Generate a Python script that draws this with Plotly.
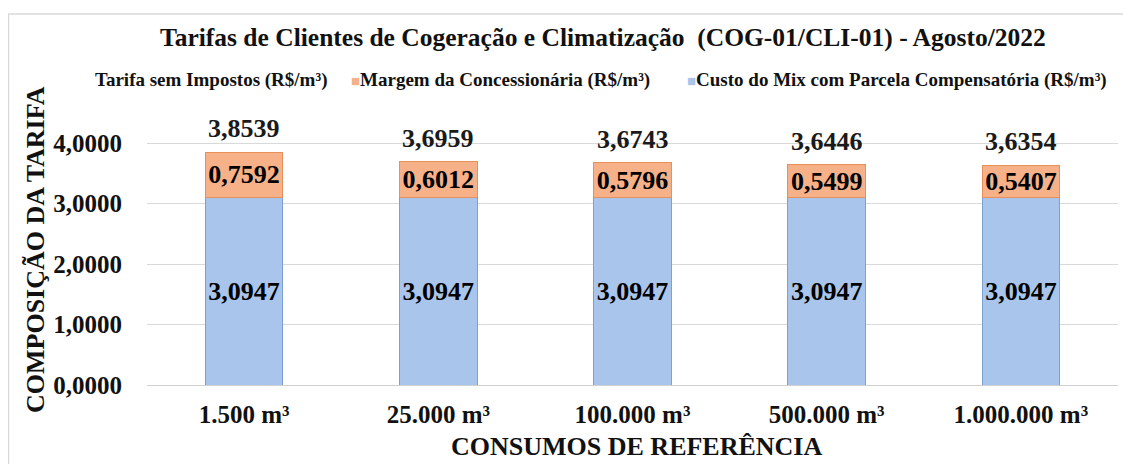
import plotly.graph_objects as go

# ---- data ----
categories = ["1.500 m³", "25.000 m³", "100.000 m³", "500.000 m³", "1.000.000 m³"]
custo_mix = [3.0947, 3.0947, 3.0947, 3.0947, 3.0947]
margem = [0.7592, 0.6012, 0.5796, 0.5499, 0.5407]
tarifa_sem_impostos = [3.8539, 3.6959, 3.6743, 3.6446, 3.6354]

legend_labels = [
    "Tarifa sem Impostos (R$/m³)",
    "Margem da Concessionária (R$/m³)",
    "Custo do Mix com Parcela Compensatória (R$/m³)",
]
chart_title = "Tarifas de Clientes de Cogeração e Climatização  (COG-01/CLI-01) - Agosto/2022"
y_title = "COMPOSIÇÃO DA TARIFA"
x_title = "CONSUMOS DE REFERÊNCIA"

# ---- styling ----
OFF = 8  # default page body margin of the written HTML
PAGE_W, PAGE_H = 1131, 464
W, H = PAGE_W - OFF, PAGE_H - OFF
# plot area in page pixels: x 147..1118, y 113..385
ML, MR, MT, MB = 147 - OFF, PAGE_W - 1118, 113 - OFF, PAGE_H - 385
FONT = "Liberation Serif"
BLUE = "#a9c5eb"
BLUE_LINE = "#7aa0d6"
ORANGE = "#f6b189"
ORANGE_LINE = "#e8905a"


def px_x(p):
    return (p - OFF - ML) / (W - ML - MR)


def px_y(p):
    return 1 - (p - OFF - MT) / (H - MT - MB)


fig = go.Figure()
fig.add_trace(go.Bar(
    x=categories, y=custo_mix, name=legend_labels[2],
    marker=dict(color=BLUE, line=dict(color=BLUE_LINE, width=1)),
    texttemplate="%{y:.4f}", textposition="inside", insidetextanchor="middle",
    textfont=dict(family=FONT, size=26, color="black", weight="bold"),
    constraintext="none", showlegend=False,
))
fig.add_trace(go.Bar(
    x=categories, y=margem, name=legend_labels[1],
    marker=dict(color=ORANGE, line=dict(color=ORANGE_LINE, width=1)),
    texttemplate="%{y:.4f}", textposition="inside", insidetextanchor="middle",
    textfont=dict(family=FONT, size=26, color="black", weight="bold"),
    constraintext="none", showlegend=False,
))

annotations = []
for c, t in zip(categories, tarifa_sem_impostos):
    annotations.append(dict(
        x=c, y=t, xref="x", yref="y", text=f"{t:.4f}".replace(".", ","),
        showarrow=False, yanchor="bottom", yshift=7,
        font=dict(family=FONT, size=26, color="#1a1a1a", weight="bold"),
    ))

# manual legend (first entry has no symbol, as in the reference)
leg_y = px_y(80)
annotations.append(dict(
    x=px_x(93), y=leg_y, xref="paper", yref="paper", xanchor="left", yanchor="middle",
    text=legend_labels[0], showarrow=False,
    font=dict(family=FONT, size=19, color="#111111", weight="bold"),
))
annotations.append(dict(
    x=px_x(349), y=leg_y, xref="paper", yref="paper", xanchor="left", yanchor="middle",
    text=f"<span style='color:{ORANGE};font-size:15px'>■</span>" + legend_labels[1],
    showarrow=False,
    font=dict(family=FONT, size=19, color="#111111", weight="bold"),
))
annotations.append(dict(
    x=px_x(685), y=leg_y, xref="paper", yref="paper", xanchor="left", yanchor="middle",
    text=f"<span style='color:{BLUE};font-size:15px'>■</span>" + legend_labels[2],
    showarrow=False,
    font=dict(family=FONT, size=19, color="#111111", weight="bold"),
))

# chart title
annotations.append(dict(
    x=px_x(603), y=px_y(37), xref="paper", yref="paper", xanchor="center", yanchor="middle",
    text=chart_title, showarrow=False,
    font=dict(family=FONT, size=25.5, color="#111111", weight="bold"),
))
# y-axis title
annotations.append(dict(
    x=px_x(35), y=px_y(250), xref="paper", yref="paper", xanchor="center", yanchor="middle",
    text=y_title, textangle=-90, showarrow=False,
    font=dict(family=FONT, size=26, color="#111111", weight="bold"),
))
# x-axis title
annotations.append(dict(
    x=px_x(636), y=px_y(446), xref="paper", yref="paper", xanchor="center", yanchor="middle",
    text=x_title, showarrow=False,
    font=dict(family=FONT, size=26, color="#111111", weight="bold"),
))

fig.update_layout(
    width=W, height=H,
    margin=dict(l=ML, r=MR, t=MT, b=MB, pad=0),
    barmode="stack", bargap=0.6,
    separators=",.",
    paper_bgcolor="white", plot_bgcolor="white",
    showlegend=False,
    annotations=annotations,
    shapes=[dict(
        type="rect", xref="paper", yref="paper",
        x0=px_x(8.5), x1=px_x(1145), y0=px_y(480), y1=px_y(14),
        line=dict(color="#d9d9d9", width=1.5), fillcolor="rgba(0,0,0,0)", layer="below",
    )],
    font=dict(family=FONT, color="#111111"),
)
fig.update_yaxes(
    range=[0, 4.5], dtick=1, tick0=0, tickformat=".4f",
    showgrid=True, gridcolor="#d9d9d9", gridwidth=1,
    zeroline=True, zerolinecolor="#d0d0d0", zerolinewidth=1,
    showline=False, ticks="", ticklabelstandoff=24,
    tickfont=dict(family=FONT, size=25, color="#111111", weight="bold"),
)
fig.update_xaxes(
    showline=False, ticks="", ticklabelstandoff=12,
    tickfont=dict(family=FONT, size=25, color="#111111", weight="bold"),
)

fig.write_html("out.html")
